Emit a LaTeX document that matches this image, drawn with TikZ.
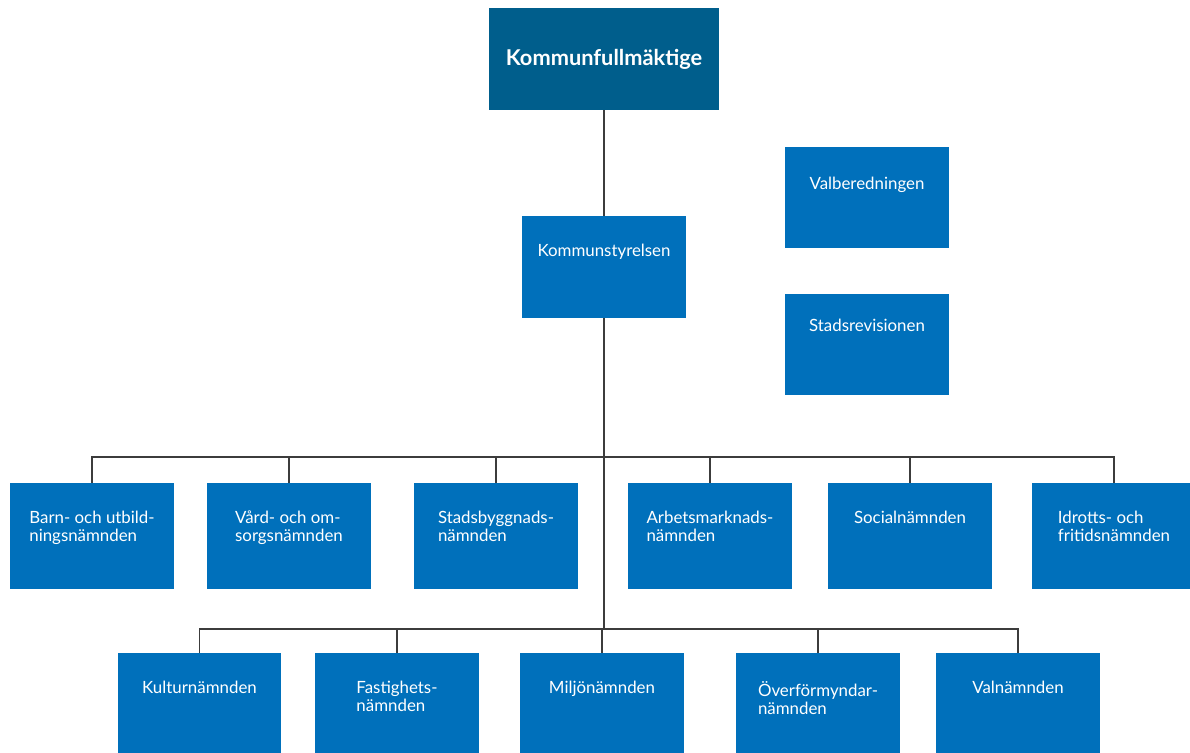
\documentclass[tikz,border=0pt]{standalone}
\usepackage{fontspec}
\setmainfont{Lato}
\usepackage{xcolor}
\usepackage{tikz}
\definecolor{boardblue}{RGB}{0,94,140}
\definecolor{unitblue}{RGB}{0,112,187}
\definecolor{linegray}{RGB}{60,60,60}

\begin{document}
\begin{tikzpicture}[
    x=0.02cm, y=-0.02cm,
    unit/.style={rectangle, fill=unitblue, minimum width=3.28cm, minimum height=2.12cm, inner sep=0pt},
    board/.style={unit, minimum height=2.04cm},
    top/.style={rectangle, fill=boardblue, minimum width=4.62cm, minimum height=2.04cm, text=white, font=\fontsize{12.4}{14}\selectfont\bfseries},
    txt/.style={text=white, font=\fontsize{9.6}{10.3}\selectfont, align=left, inner sep=0pt, anchor=north, yshift=-0.56cm},
    link/.style={draw=linegray, line width=0.8pt}
]
\useasboundingbox (0,0) rectangle (1190,753);
\clip (0,0) rectangle (1190,753);

\node[top] (kf) at (604,59) {Kommunfullmäktige};
\node[board, label={[txt]north:Kommunstyrelsen}] (ks) at (604,267) {};
\node[board, label={[txt, yshift=-0.06cm]north:Valberedningen}] (valb) at (867,197.5) {};
\node[board, label={[txt, yshift=0.04cm]north:Stadsrevisionen}] (rev) at (867,344.5) {};

\node[unit, label={[txt]north:{Barn- och utbild-\\ningsnämnden}}] (barn) at (92,536) {};
\node[unit, label={[txt]north:{Vård- och om-\\sorgsnämnden}}] (vard) at (289,536) {};
\node[unit, label={[txt]north:{Stadsbyggnads-\\nämnden}}] (sbn) at (496,536) {};
\node[unit, label={[txt]north:{Arbetsmarknads-\\nämnden}}] (amn) at (710,536) {};
\node[unit, label={[txt]north:Socialnämnden}] (soc) at (910,536) {};
\node[unit, label={[txt]north:{Idrotts- och\\fritidsnämnden}}] (idr) at (1114,536) {};

\node[unit, label={[txt]north:Kulturnämnden}] (kul) at (199.5,706) {};
\node[unit, label={[txt]north:{Fastighets-\\nämnden}}] (fast) at (397,706) {};
\node[unit, label={[txt]north:Miljönämnden}] (milj) at (602,706) {};
\node[unit, label={[txt]north:{Överförmyndar-\\nämnden}}] (ofn) at (818,706) {};
\node[unit, label={[txt]north:Valnämnden}] (val) at (1018,706) {};

\coordinate (bus1) at (604,457);
\coordinate (bus2) at (604,629);

\draw[link] (ks.north |- kf.south) -- (ks.north);
\foreach \n in {barn,vard,sbn,amn,soc,idr}
  \draw[link] (ks.south) -- (bus1) -| (\n.north);
\foreach \n in {kul,fast,milj,ofn,val}
  \draw[link] (bus1) -- (bus2) -| (\n.north);
\end{tikzpicture}
\end{document}
